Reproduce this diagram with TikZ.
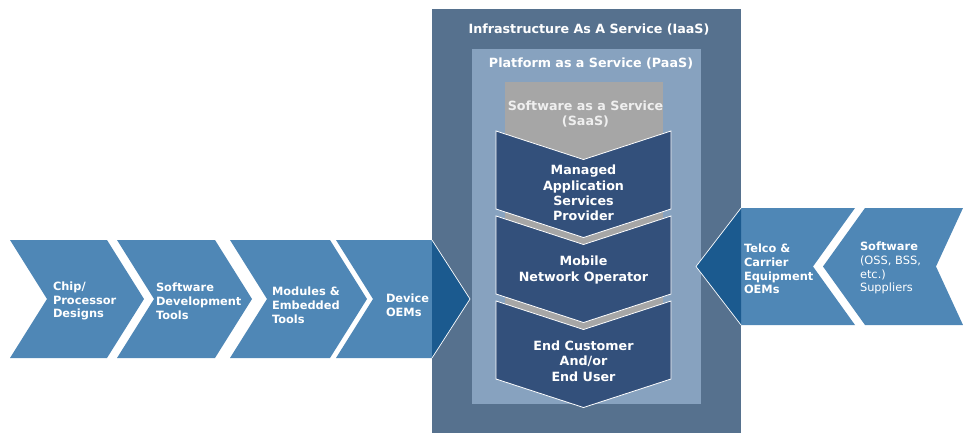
\documentclass[tikz,border=0pt]{standalone}
\usepackage{fontspec}
\setmainfont{DejaVu Sans}

\definecolor{iaasblue}{HTML}{56718E}
\definecolor{paasblue}{HTML}{87A2BF}
\definecolor{saasgray}{HTML}{A6A6A6}
\definecolor{coreblue}{HTML}{33507B}
\definecolor{chevblue}{HTML}{4F87B6}
\definecolor{tipblue}{HTML}{1B5A8F}
\definecolor{saastext}{HTML}{EFEFEF}

% chevron pointing right: left x, right x of its body
\newcommand\rightchev[2]{%
  \fill[chevblue] (#1,240) -- (#2,240) -- (#2+37,299) -- (#2,358) -- (#1,358) -- (#1+37,299) -- cycle;}
% chevron pointing down: top y of its sides
\newcommand\downchev[1]{%
  \filldraw[fill=coreblue, draw=white, line width=0.8pt, line join=miter]
    (496,#1) -- (583.5,#1+28.5) -- (671,#1) -- (671,#1+78) -- (583.5,#1+106.5) -- (496,#1+78) -- cycle;}

\begin{document}
\begin{tikzpicture}[x=1pt,y=-1pt,
  every node/.style={inner sep=0pt, outer sep=0pt, text=white},
  title/.style={font=\fontsize{12.7}{15.3}\selectfont\bfseries, align=center},
  center/.style={font=\fontsize{12.7}{15.3}\selectfont\bfseries, align=center},
  side/.style={font=\fontsize{11.4}{13.8}\selectfont\bfseries, align=left, anchor=west},
  sidereg/.style={font=\fontsize{11.4}{13.8}\selectfont, align=left, anchor=west},
  tipedge/.style={draw=white, line width=0.7pt}]
\useasboundingbox (0,0) rectangle (963,434);

% nested service layers
\fill[iaasblue] (432,9) rectangle (741,433);
\fill[paasblue] (472,49) rectangle (701,404);
\fill[saasgray] (505,82) rectangle (663,335);

\node[title] (iaas) at (589,30) {Infrastructure As A Service (IaaS)};
\node[title] (paas) at (591,64) {Platform as a Service (PaaS)};
\node[center, text=saastext] (saas) at (585.5,114) {Software as a Service\\(SaaS)};

% value chain inside the platform
\downchev{131}
\downchev{216}
\downchev{301}
\node[center] (masp) at (583.5,193) {Managed\\Application\\Services\\Provider};
\node[center] (mno) at (583.5,270) {Mobile\\Network Operator};
\node[center] (user) at (583.5,361) {End Customer\\And/or\\End User};

% supply chain from the left
\rightchev{10}{107}
\rightchev{117}{215}
\rightchev{230}{330}
\rightchev{336}{432}
\fill[tipblue] (432,240) -- (470,299) -- (432,358) -- cycle;
\draw[tipedge] (432,240) -- (470,299) -- (432,358);

\node[side] (chip) at (53,301) {Chip/\\Processor\\Designs};
\node[side] (sdt) at (156,301) {Software\\Development\\Tools};
\node[side] (mods) at (272,305) {Modules \&\\Embedded\\Tools};
\node[side] (dev) at (386,305) {Device\\OEMs};

% suppliers from the right
\fill[chevblue] (741,208) -- (855,208) -- (813,266.5) -- (855,325) -- (741,325) -- (696,266.5) -- cycle;
\fill[chevblue] (865,208) -- (963,208) -- (936,266.5) -- (963,325) -- (865,325) -- (823,266.5) -- cycle;
\fill[tipblue] (741,208) -- (696,266.5) -- (741,325) -- cycle;
\draw[tipedge] (741,208) -- (696,266.5) -- (741,325);

\node[side] (telco) at (744,269) {Telco \&\\Carrier\\Equipment\\OEMs};
\node[sidereg] (swsup) at (860,268) {\textbf{Software}\\(OSS, BSS,\\etc.)\\Suppliers};
\end{tikzpicture}
\end{document}
